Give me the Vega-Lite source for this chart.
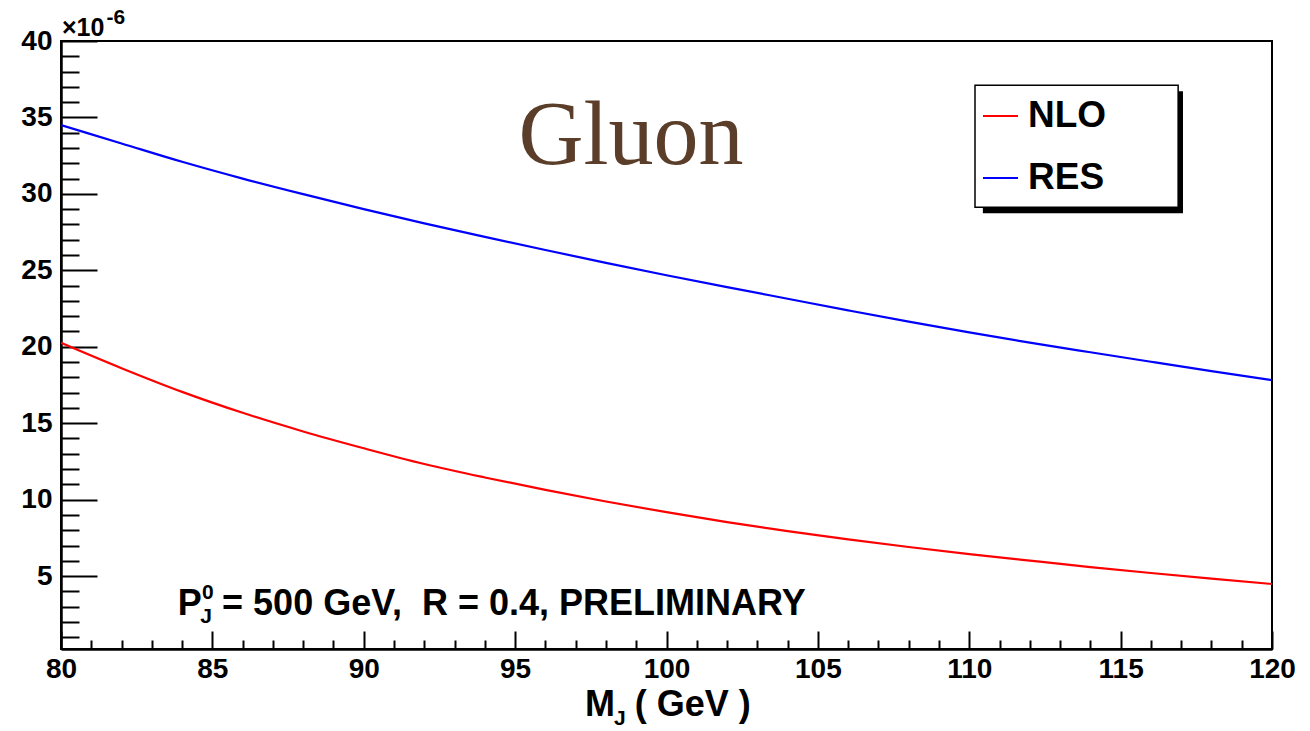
{
  "$schema": "https://vega.github.io/schema/vega-lite/v6.json",
  "width": 1211,
  "height": 608,
  "autosize": "none",
  "padding": {"left": 61, "top": 41, "right": 38, "bottom": 82},
  "background": "white",
  "config": {
    "view": {"stroke": "black", "strokeWidth": 2},
    "font": "Liberation Sans",
    "text": {"font": "Liberation Sans", "fontWeight": "bold", "color": "black"}
  },
  "datasets": {
    "curves": [
      {"m": 80, "series": "NLO", "v": 20.26},
      {"m": 82, "series": "NLO", "v": 18.6},
      {"m": 84, "series": "NLO", "v": 17.05},
      {"m": 86, "series": "NLO", "v": 15.68},
      {"m": 88, "series": "NLO", "v": 14.46},
      {"m": 90, "series": "NLO", "v": 13.36},
      {"m": 92, "series": "NLO", "v": 12.33},
      {"m": 94, "series": "NLO", "v": 11.45},
      {"m": 96, "series": "NLO", "v": 10.64},
      {"m": 98, "series": "NLO", "v": 9.88},
      {"m": 100, "series": "NLO", "v": 9.18},
      {"m": 102, "series": "NLO", "v": 8.53},
      {"m": 104, "series": "NLO", "v": 7.94},
      {"m": 106, "series": "NLO", "v": 7.4},
      {"m": 108, "series": "NLO", "v": 6.9},
      {"m": 110, "series": "NLO", "v": 6.44},
      {"m": 112, "series": "NLO", "v": 6.01},
      {"m": 114, "series": "NLO", "v": 5.59},
      {"m": 116, "series": "NLO", "v": 5.2},
      {"m": 118, "series": "NLO", "v": 4.83},
      {"m": 120, "series": "NLO", "v": 4.48},
      {"m": 80, "series": "RES", "v": 34.5},
      {"m": 82, "series": "RES", "v": 33.3},
      {"m": 84, "series": "RES", "v": 32.1},
      {"m": 86, "series": "RES", "v": 31.0},
      {"m": 88, "series": "RES", "v": 29.98},
      {"m": 90, "series": "RES", "v": 29.0},
      {"m": 92, "series": "RES", "v": 28.07},
      {"m": 94, "series": "RES", "v": 27.19},
      {"m": 96, "series": "RES", "v": 26.33},
      {"m": 98, "series": "RES", "v": 25.49},
      {"m": 100, "series": "RES", "v": 24.68},
      {"m": 102, "series": "RES", "v": 23.9},
      {"m": 104, "series": "RES", "v": 23.14},
      {"m": 106, "series": "RES", "v": 22.38},
      {"m": 108, "series": "RES", "v": 21.64},
      {"m": 110, "series": "RES", "v": 20.94},
      {"m": 112, "series": "RES", "v": 20.27},
      {"m": 114, "series": "RES", "v": 19.64},
      {"m": 116, "series": "RES", "v": 19.02},
      {"m": 118, "series": "RES", "v": 18.41},
      {"m": 120, "series": "RES", "v": 17.82}
    ]
  },
  "resolve": {"axis": {"x": "independent", "y": "independent"}},
  "layer": [
    {
      "data": {"name": "curves"},
      "mark": {"type": "line", "strokeWidth": 2.2, "interpolate": "monotone", "clip": true},
      "encoding": {
        "x": {
          "field": "m", "type": "quantitative",
          "scale": {"domain": [80, 120], "nice": false, "zero": false},
          "axis": {
            "title": null, "orient": "bottom",
            "values": [80, 85, 90, 95, 100, 105, 110, 115, 120],
            "tickSize": -18,
            "tickColor": "black", "tickWidth": 2,
            "domainColor": "black", "domainWidth": 2.5,
            "labelFont": "Liberation Sans", "labelFontWeight": "bold", "labelFontSize": 28,
            "labelColor": "black", "labelPadding": 24, "labelFlush": false, "labelOverlap": false,
            "grid": false
          }
        },
        "y": {
          "field": "v", "type": "quantitative",
          "scale": {"domain": [0.23, 40], "nice": false, "zero": false},
          "axis": {
            "title": null, "orient": "left",
            "values": [5, 10, 15, 20, 25, 30, 35, 40],
            "tickSize": -36,
            "tickColor": "black", "tickWidth": 2,
            "domainColor": "black", "domainWidth": 2.5,
            "labelFont": "Liberation Sans", "labelFontWeight": "bold", "labelFontSize": 28,
            "labelColor": "black", "labelPadding": 45, "labelFlush": false, "labelOverlap": false,
            "grid": false
          }
        },
        "color": {
          "field": "series", "type": "nominal",
          "scale": {"domain": ["NLO", "RES"], "range": ["#ff0000", "#0000ff"]},
          "legend": {
            "orient": "none", "legendX": 921, "legendY": 56.5,
            "title": null, "symbolType": "stroke", "symbolSize": 1225, "symbolStrokeWidth": 2,
            "labelFont": "Liberation Sans", "labelFontWeight": "bold", "labelFontSize": 37,
            "labelColor": "black", "labelOffset": 9, "rowPadding": 24, "padding": 0,
            "strokeColor": null, "fillColor": null
          }
        }
      }
    },
    {
      "data": {"name": "curves"},
      "mark": {"type": "line", "opacity": 0, "clip": true},
      "encoding": {
        "x": {
          "field": "m", "type": "quantitative",
          "axis": {
            "title": null, "orient": "bottom", "labels": false, "domain": false, "grid": false,
            "values": [81,82,83,84,86,87,88,89,91,92,93,94,96,97,98,99,101,102,103,104,106,107,108,109,111,112,113,114,116,117,118,119],
            "tickSize": -9, "tickColor": "black", "tickWidth": 2
          }
        },
        "y": {
          "field": "v", "type": "quantitative",
          "axis": {
            "title": null, "orient": "left", "labels": false, "domain": false, "grid": false,
            "values": [1,2,3,4,6,7,8,9,11,12,13,14,16,17,18,19,21,22,23,24,26,27,28,29,31,32,33,34,36,37,38,39],
            "tickSize": -18, "tickColor": "black", "tickWidth": 2
          }
        },
        "detail": {"field": "series"}
      }
    },
    {
      "data": {"values": [{"x1": 110.45, "x2": 117.06, "y1": 36.72, "y2": 28.74}]},
      "mark": {"type": "rect", "fill": "black"},
      "encoding": {
        "x": {"field": "x1", "type": "quantitative", "axis": null},
        "x2": {"field": "x2"},
        "y": {"field": "y1", "type": "quantitative", "axis": null},
        "y2": {"field": "y2"}
      }
    },
    {
      "data": {"values": [{"x1": 110.19, "x2": 116.9, "y1": 37.11, "y2": 29.13}]},
      "mark": {"type": "rect", "fill": "white", "stroke": "black", "strokeWidth": 1.5},
      "encoding": {
        "x": {"field": "x1", "type": "quantitative", "axis": null},
        "x2": {"field": "x2"},
        "y": {"field": "y1", "type": "quantitative", "axis": null},
        "y2": {"field": "y2"}
      }
    },
    {
      "data": {"values": [{"x": 98.83, "y": 31.95, "label": "Gluon"}]},
      "mark": {"type": "text", "font": "Liberation Serif", "fontWeight": "normal", "fontSize": 90, "color": "#5a3e29", "align": "center", "baseline": "alphabetic"},
      "encoding": {
        "x": {"field": "x", "type": "quantitative", "axis": null},
        "y": {"field": "y", "type": "quantitative", "axis": null},
        "text": {"field": "label"}
      }
    },
    {
      "data": {"values": [
        {"x": 83.86, "y": 2.45, "label": "P"},
        {"x": 85.32, "y": 2.45, "label": "= 500 GeV, \u00a0R = 0.4, PRELIMINARY"},
        {"x": 97.31, "y": -4.16, "label": "M"},
        {"x": 98.95, "y": -4.16, "label": "( GeV )"}
      ]},
      "mark": {"type": "text", "align": "left", "baseline": "alphabetic", "fontSize": 36, "clip": false},
      "encoding": {
        "x": {"field": "x", "type": "quantitative", "axis": null},
        "y": {"field": "y", "type": "quantitative", "axis": null},
        "text": {"field": "label"}
      }
    },
    {
      "data": {"values": [
        {"x": 80.03, "y": 40.32, "label": "×10"}
      ]},
      "mark": {"type": "text", "align": "left", "baseline": "alphabetic", "fontSize": 25, "fontWeight": "bold", "clip": false},
      "encoding": {
        "x": {"field": "x", "type": "quantitative", "axis": null},
        "y": {"field": "y", "type": "quantitative", "axis": null},
        "text": {"field": "label"}
      }
    },
    {
      "data": {"values": [
        {"x": 84.66, "y": 3.5, "label": "0"},
        {"x": 84.6, "y": 1.95, "label": "J"},
        {"x": 98.27, "y": -4.75, "label": "J"},
        {"x": 81.5, "y": 41.1, "label": "-6"}
      ]},
      "mark": {"type": "text", "align": "left", "baseline": "alphabetic", "fontSize": 21, "clip": false},
      "encoding": {
        "x": {"field": "x", "type": "quantitative", "axis": null},
        "y": {"field": "y", "type": "quantitative", "axis": null},
        "text": {"field": "label"}
      }
    }
  ]
}
